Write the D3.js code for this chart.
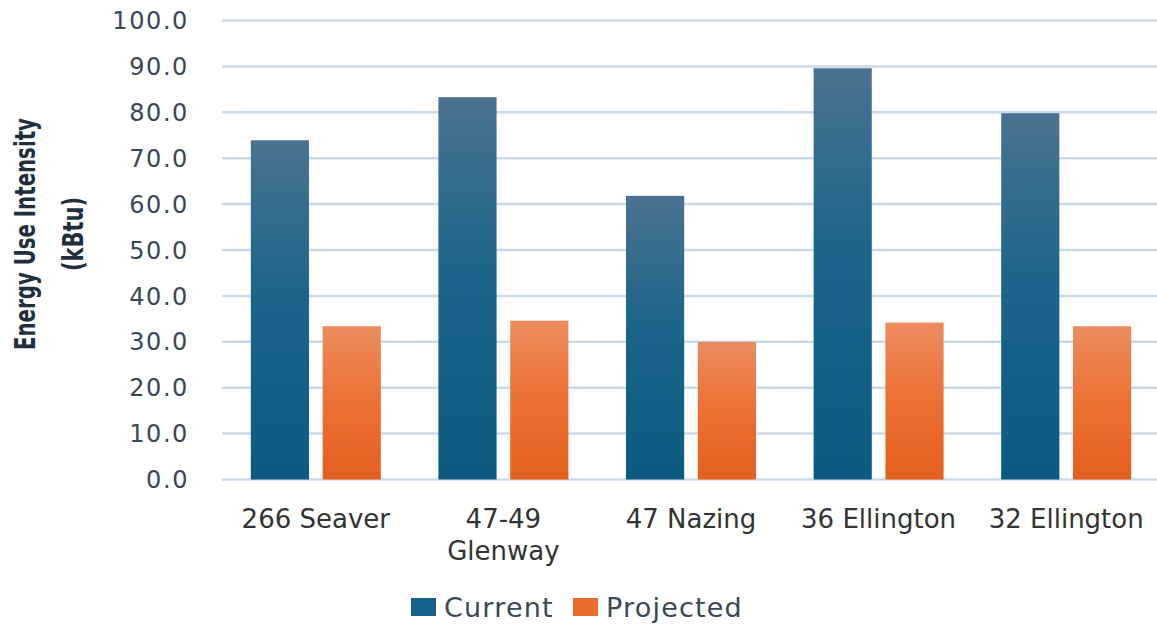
<!DOCTYPE html>
<html>
<head>
<meta charset="utf-8">
<title>Energy Use Intensity</title>
<script src="https://d3js.org/d3.v7.min.js"></script>
<style>
body { margin: 0; background: #fff; }
.tick-label { font-family: "DejaVu Sans", sans-serif; font-size: 24px; fill: #3a4757; letter-spacing: 1.6px; }
.cat-label { font-family: "DejaVu Sans", sans-serif; font-size: 26px; fill: #333; }
.legend-text { font-family: "DejaVu Sans", sans-serif; font-size: 27px; fill: #3a4757; letter-spacing: 1.2px; }
.y-title { font-family: "DejaVu Sans Condensed", "DejaVu Sans", sans-serif; font-size: 28px; font-weight: bold; fill: #1f2f3f; }
</style>
</head>
<body>
<div id="chart"></div>
<script>
// data
var categories = [["266 Seaver"], ["47-49", "Glenway"], ["47 Nazing"], ["36 Ellington"], ["32 Ellington"]];
var current = [73.9, 83.3, 61.8, 89.6, 79.8];
var projected = [33.4, 34.6, 30.0, 34.2, 33.4];
var series = ["Current", "Projected"];
var yTicks = [0, 10, 20, 30, 40, 50, 60, 70, 80, 90, 100];

var width = 1157, height = 625;
var plot = {left: 222, right: 1160, top: 20.5, bottom: 479.5};

var svg = d3.select("#chart").append("svg")
    .attr("width", width)
    .attr("height", height);

var defs = svg.append("defs");
function grad(id, stops) {
  var g = defs.append("linearGradient").attr("id", id)
      .attr("x1", 0).attr("y1", 0).attr("x2", 0).attr("y2", 1);
  stops.forEach(function(s) {
    g.append("stop").attr("offset", s[0]).attr("stop-color", s[1]);
  });
}
grad("gCur", [["0%", "#4b7290"], ["45%", "#1b6589"], ["100%", "#0d5a80"]]);
grad("gProj", [["0%", "#ec8b5e"], ["50%", "#ec7033"], ["100%", "#e35f1d"]]);
var fills = ["url(#gCur)", "url(#gProj)"];
var legendFills = ["#16628a", "#ea6c2c"];

var x0 = d3.scaleBand()
    .domain(d3.range(categories.length))
    .range([plot.left, plot.right]);

var x1 = d3.scaleBand()
    .domain([0, 1])
    .range([28.8, x0.bandwidth() - 28.8])
    .paddingInner(0.19);

var y = d3.scaleLinear()
    .domain([0, 100])
    .range([plot.bottom, plot.top]);

// gridlines
svg.append("g")
  .selectAll("line")
  .data(yTicks)
  .enter().append("line")
    .attr("x1", plot.left)
    .attr("x2", width)
    .attr("y1", function(d) { return y(d); })
    .attr("y2", function(d) { return y(d); })
    .attr("stroke", "#cbdaea")
    .attr("stroke-width", 2.5);

// y tick labels
svg.append("g")
  .selectAll("text")
  .data(yTicks)
  .enter().append("text")
    .attr("class", "tick-label")
    .attr("x", 189)
    .attr("y", function(d) { return y(d); })
    .attr("dy", "0.36em")
    .attr("text-anchor", "end")
    .text(function(d) { return d3.format(".1f")(d); });

// bars
var groups = svg.append("g")
  .selectAll("g")
  .data(categories)
  .enter().append("g")
    .attr("transform", function(d, i) { return "translate(" + x0(i) + ",0)"; });

groups.selectAll("rect")
  .data(function(d, i) { return [current[i], projected[i]]; })
  .enter().append("rect")
    .attr("x", function(d, j) { return x1(j); })
    .attr("y", function(d) { return y(d); })
    .attr("width", x1.bandwidth())
    .attr("height", function(d) { return plot.bottom - y(d); })
    .attr("fill", function(d, j) { return fills[j]; });

// category labels
groups.each(function(d) {
  var t = d3.select(this).append("text")
      .attr("class", "cat-label")
      .attr("text-anchor", "middle")
      .attr("x", x0.bandwidth() / 2)
      .attr("y", 528);
  d.forEach(function(line, k) {
    t.append("tspan")
      .attr("x", x0.bandwidth() / 2)
      .attr("dy", k === 0 ? 0 : 32)
      .text(line);
  });
});

// y axis title (narrow bold, squeezed to the reference length)
var titleLines = [["Energy Use Intensity", 232, 0], ["(kBtu)", 74, 48]];
svg.append("g")
    .attr("transform", "translate(35,234) rotate(-90)")
  .selectAll("text")
  .data(titleLines)
  .enter().append("text")
    .attr("class", "y-title")
    .attr("text-anchor", "middle")
    .attr("x", 0)
    .attr("y", function(d) { return d[2]; })
    .attr("textLength", function(d) { return d[1]; })
    .attr("lengthAdjust", "spacingAndGlyphs")
    .text(function(d) { return d[0]; });

// legend
var legendX = [411, 573];
var leg = svg.append("g")
  .selectAll("g")
  .data(series)
  .enter().append("g")
    .attr("transform", function(d, i) { return "translate(" + legendX[i] + ",598)"; });
leg.append("rect")
    .attr("width", 25)
    .attr("height", 18)
    .attr("fill", function(d, i) { return legendFills[i]; });
leg.append("text")
    .attr("class", "legend-text")
    .attr("x", 33)
    .attr("y", 9)
    .attr("dy", "0.36em")
    .text(function(d) { return d; });
</script>
</body>
</html>
